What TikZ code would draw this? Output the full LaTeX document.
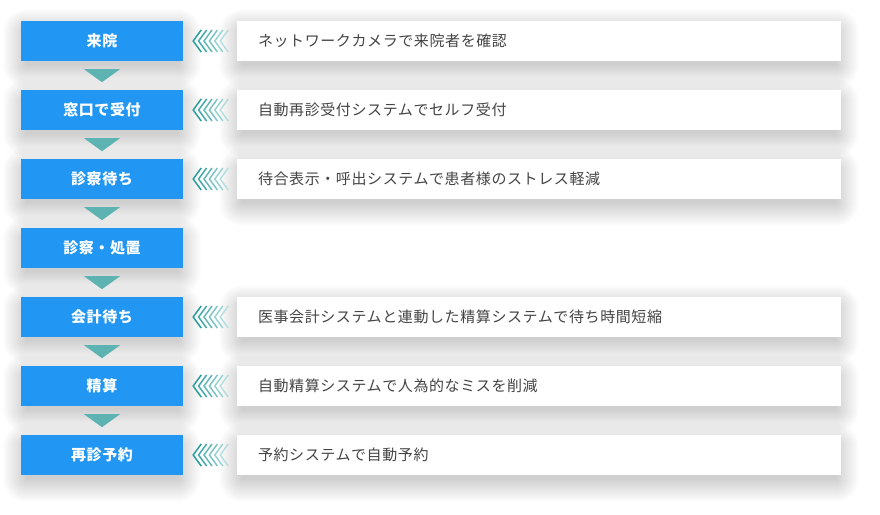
\documentclass[tikz,border=0pt]{standalone}
\usepackage{fontspec}
\setmainfont{Noto Sans CJK JP}[LetterSpace=4]
\usetikzlibrary{calc}
\pgfdeclarelayer{bg}
\pgfsetlayers{bg,main}
\definecolor{stepblue}{HTML}{2196F3}
\definecolor{tealtri}{HTML}{5DB2B2}
\definecolor{chevdark}{HTML}{2A9D9D}
\definecolor{chevlight}{HTML}{C4E6E6}
\definecolor{desctext}{HTML}{444444}
\tikzset{
  stepbox/.style={fill=stepblue, text=white, font=\bfseries\fontsize{15}{18}\selectfont,
    minimum width=162pt, minimum height=40pt, inner sep=0pt},
  descbox/.style={fill=white, text=desctext, font=\fontsize{15}{18}\selectfont,
    text width=562pt, inner xsep=21pt, inner ysep=0pt, minimum height=40pt, align=left},
  arrowtri/.style={fill=tealtri},
  chevline/.style={line width=1.5pt},
  shadowlayer/.style={fill=black, fill opacity=0.0065}
}
\newcommand{\softshade}[1]{%
  \begin{pgfonlayer}{bg}
  \foreach \k in {1,...,24}{
    \fill[shadowlayer, rounded corners=\k pt]
      ($(#1.north west)+(-\k+6,-\k+12)$) rectangle ($(#1.south east)+(\k-6,\k+3)$);
  }
  \end{pgfonlayer}}
\begin{document}
\begin{tikzpicture}[x=1pt,y=-1pt]
\begin{pgfonlayer}{bg}
\fill[white] (0,0) rectangle (880,514);
\end{pgfonlayer}
\useasboundingbox (0,0) rectangle (880,514);

\node[stepbox] (s1) at (102,41) {来院};
\node[stepbox] (s2) at (102,110) {窓口で受付};
\node[stepbox] (s3) at (102,179) {診察待ち};
\node[stepbox] (s4) at (102,248) {診察・処置};
\node[stepbox] (s5) at (102,317) {会計待ち};
\node[stepbox] (s6) at (102,386) {精算};
\node[stepbox] (s7) at (102,455) {再診予約};

\node[descbox] (d1) at (539,41) {ネットワークカメラで来院者を確認};
\node[descbox] (d2) at (539,110) {自動再診受付システムでセルフ受付};
\node[descbox] (d3) at (539,179) {待合表示・呼出システムで患者様のストレス軽減};
\node[descbox] (d5) at (539,317) {医事会計システムと連動した精算システムで待ち時間短縮};
\node[descbox] (d6) at (539,386) {自動精算システムで人為的なミスを削減};
\node[descbox] (d7) at (539,455) {予約システムで自動予約};

\foreach \n in {s1,s2,s3,s4,s5,s6,s7,d1,d2,d3,d5,d6,d7}{\softshade{\n}}

\foreach \a in {1,...,6}{
  \fill[arrowtri] ($(s\a.south)+(-18,8)$) -- ($(s\a.south)+(18,8)$) -- ($(s\a.south)+(0,21)$) -- cycle;
}

\foreach \r in {1,2,3,5,6,7}{
  \foreach \i in {0,...,5}{
    \pgfmathtruncatemacro{\p}{100-\i*18}
    \draw[chevline, color=chevdark!\p!chevlight]
      ($(s\r.east)+(18+\i*5.4,-11)$) -- ($(s\r.east)+(10+\i*5.4,0)$) -- ($(s\r.east)+(18+\i*5.4,11)$);
  }
}
\end{tikzpicture}
\end{document}
